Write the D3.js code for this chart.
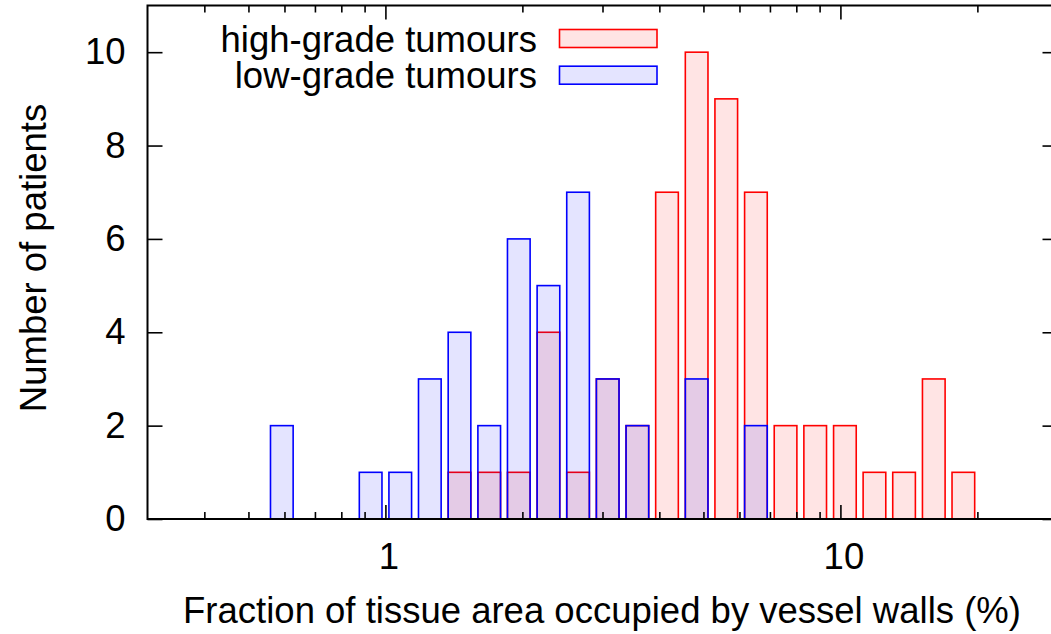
<!DOCTYPE html>
<html>
<meta charset="utf-8">
<head>
  <script src="https://d3js.org/d3.v7.min.js"></script>
  <style>
    body { margin: 0; background: #fff; }
    svg { display: block; overflow: hidden; }
    text { font-family: "Liberation Sans", Arial, Helvetica, sans-serif; fill: #000; }
    .axis .domain { display: none; }
    .axis line { stroke: #000; stroke-width: 1.6px; }
  </style>
</head>
<body>
<div id="chart"></div>

<script>
// bin centres (% of tissue area) and patient counts
var lowCentres  = [0.592, 0.928, 1.078, 1.252, 1.455, 1.691, 1.964, 2.282, 2.651, 3.080, 3.579, 4.831, 6.521];
var lowCounts   = [2, 1, 1, 3, 4, 2, 6, 5, 7, 3, 2, 3, 2];

var highCentres = [1.455, 1.691, 1.964, 2.282, 2.651, 3.080, 3.579, 4.158, 4.831, 5.612,
                   6.521, 7.576, 8.802, 10.23, 11.88, 13.80, 16.04, 18.63];
var highCounts  = [1, 1, 1, 4, 1, 3, 2, 7, 10, 9, 7, 2, 2, 2, 1, 1, 3, 1];

var xMajor = [1, 10];
var xMinor = [0.4, 0.5, 0.6, 0.7, 0.8, 0.9, 2, 3, 4, 5, 6, 7, 8, 9, 20, 30];
var yTicks = [0, 2, 4, 6, 8, 10];

var seriesNames = ["high-grade tumours", "low-grade tumours"];

var width = 1051, height = 634;
var pLeft = 147.5, pRight = 1057.5, pTop = 5.5, pBottom = 519;
var halfBox = 1.059; // half bar width as a ratio on the log axis
var fontSize = 36.5;

var svg = d3.select("#chart")
  .append("svg")
  .attr("width", width)
  .attr("height", height);

var x = d3.scaleLog().domain([0.3, 30]).range([pLeft, pRight]);
var y = d3.scaleLinear().domain([0, 11]).range([pBottom, pTop]);

function bars(centres, counts, colour) {
  var data = centres.map(function(c, i) { return { c: c, n: counts[i] }; });
  svg.append("g")
    .selectAll("rect")
    .data(data)
    .enter().append("rect")
      .attr("x", function(d) { return x(d.c / halfBox); })
      .attr("width", function(d) { return x(d.c * halfBox) - x(d.c / halfBox); })
      .attr("y", function(d) { return y(d.n); })
      .attr("height", function(d) { return y(0) - y(d.n); })
      .attr("fill", colour)
      .attr("fill-opacity", 0.105)
      .attr("stroke", colour)
      .attr("stroke-width", 1.6);
}

bars(highCentres, highCounts, "#ff0000");
bars(lowCentres, lowCounts, "#0000ff");

// axes (ticks point inward, mirrored on top and right)
svg.append("g").attr("class", "axis")
  .attr("transform", "translate(0," + pBottom + ")")
  .call(d3.axisBottom(x).tickValues(xMajor).tickSize(-14).tickPadding(24)
    .tickFormat(d3.format("d")))
  .selectAll("text")
    .attr("font-size", fontSize)
    .attr("dx", 3);

svg.append("g").attr("class", "axis")
  .attr("transform", "translate(0," + pBottom + ")")
  .call(d3.axisBottom(x).tickValues(xMinor).tickSize(-7).tickFormat(""));

svg.append("g").attr("class", "axis")
  .attr("transform", "translate(0," + pTop + ")")
  .call(d3.axisTop(x).tickValues(xMajor).tickSize(-14).tickFormat(""));

svg.append("g").attr("class", "axis")
  .attr("transform", "translate(0," + pTop + ")")
  .call(d3.axisTop(x).tickValues(xMinor).tickSize(-7).tickFormat(""));

svg.append("g").attr("class", "axis")
  .attr("transform", "translate(" + pLeft + ",0)")
  .call(d3.axisLeft(y).tickValues(yTicks).tickSize(-15).tickPadding(22))
  .selectAll("text")
    .attr("font-size", fontSize);

svg.append("g").attr("class", "axis")
  .attr("transform", "translate(" + pRight + ",0)")
  .call(d3.axisRight(y).tickValues(yTicks).tickSize(-15).tickFormat(""));

svg.append("rect")
  .attr("x", pLeft).attr("y", pTop)
  .attr("width", pRight - pLeft).attr("height", pBottom - pTop)
  .attr("fill", "none")
  .attr("stroke", "#000")
  .attr("stroke-width", 2);

// titles
svg.append("text")
  .attr("x", 602).attr("y", 623)
  .attr("text-anchor", "middle")
  .attr("font-size", fontSize)
  .text("Fraction of tissue area occupied by vessel walls (%)");

svg.append("text")
  .attr("transform", "translate(46,258) rotate(-90)")
  .attr("text-anchor", "middle")
  .attr("font-size", fontSize)
  .text("Number of patients");

// legend
var legend = svg.append("g").selectAll("g")
  .data(seriesNames)
  .enter().append("g")
    .attr("transform", function(d, i) { return "translate(0," + (i * 36.7) + ")"; });

legend.append("text")
  .attr("x", 537).attr("y", 51.7)
  .attr("text-anchor", "end")
  .attr("font-size", fontSize)
  .text(function(d) { return d; });

legend.append("rect")
  .attr("x", 559.5).attr("y", 29.5)
  .attr("width", 97.5).attr("height", 18)
  .attr("fill", function(d, i) { return i ? "#0000ff" : "#ff0000"; })
  .attr("fill-opacity", 0.105)
  .attr("stroke", function(d, i) { return i ? "#0000ff" : "#ff0000"; })
  .attr("stroke-width", 1.6);
</script>
</body>
</html>
